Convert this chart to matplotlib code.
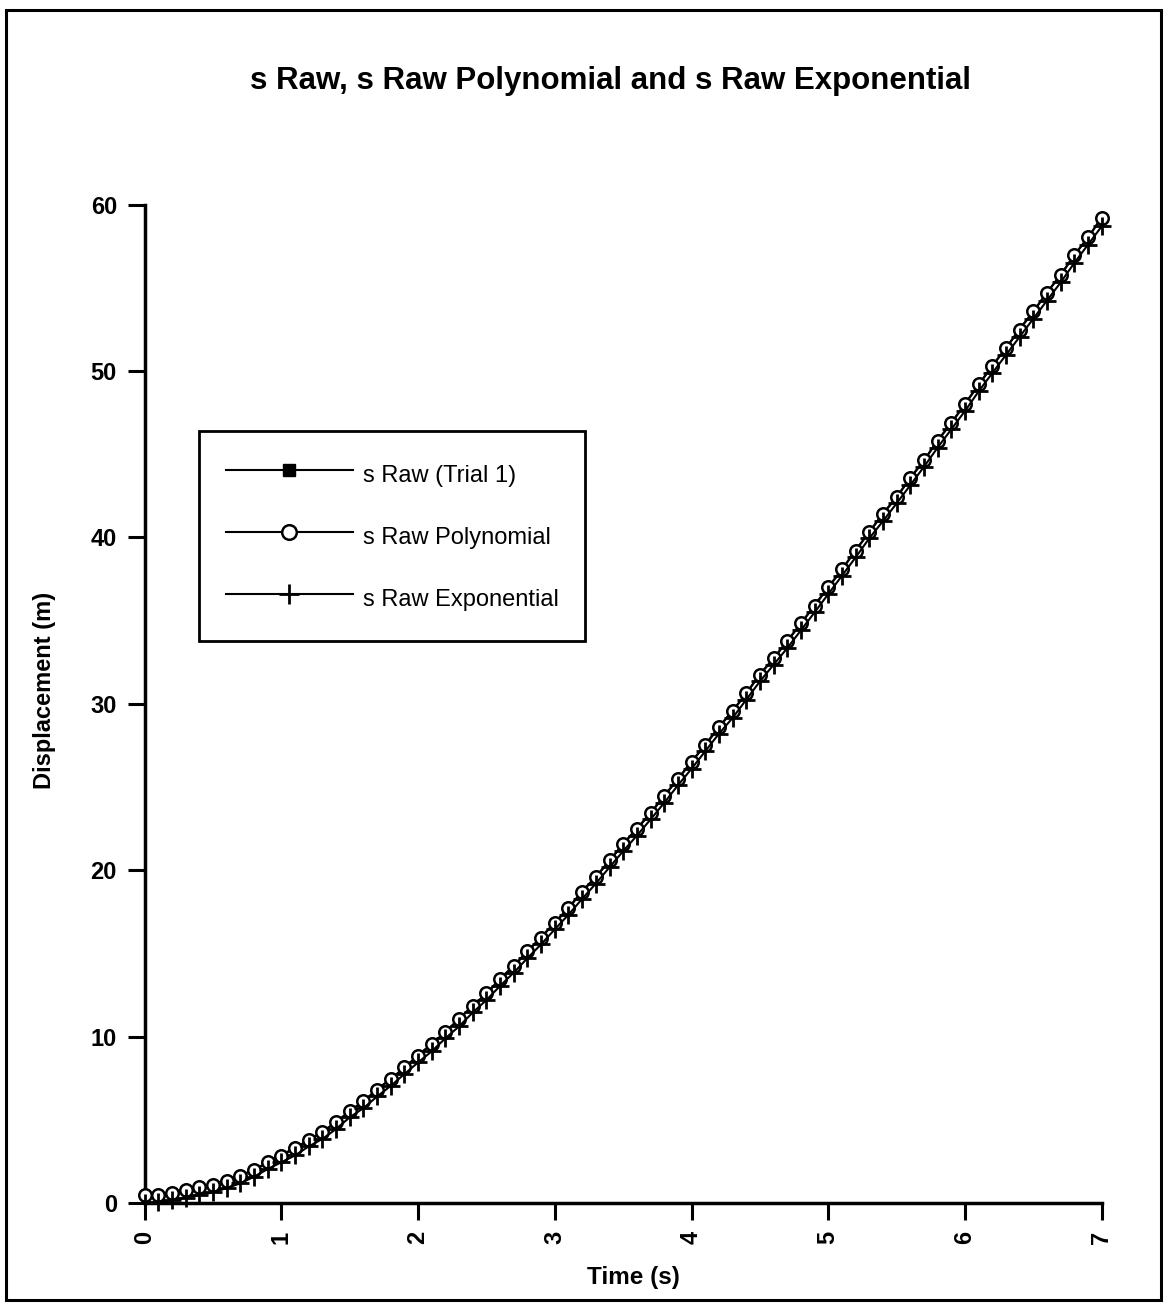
import numpy as np
import matplotlib
matplotlib.use('Agg')
import matplotlib.pyplot as plt
from matplotlib.patches import Rectangle

plt.rcParams['font.family'] = ['Liberation Sans', 'DejaVu Sans']

# time (s), 0.1 s steps
t = [round(0.1 * i, 1) for i in range(71)]

# displacement (m)
s_exp = [0.00, 0.05, 0.15, 0.32, 0.49, 0.63, 0.90, 1.18, 1.58, 2.04,
         2.45, 2.86, 3.40, 3.85, 4.45, 5.15, 5.70, 6.40, 7.04, 7.75,
         8.45, 9.12, 9.90, 10.62, 11.45, 12.20, 13.05, 13.85, 14.72, 15.55,
         16.45, 17.33, 18.28, 19.20, 20.18, 21.15, 22.08, 23.05, 24.05, 25.10,
         26.10, 27.15, 28.20, 29.15, 30.25, 31.35, 32.35, 33.35, 34.42, 35.50,
         36.60, 37.70, 38.80, 39.95, 40.98, 42.05, 43.14, 44.25, 45.40, 46.50,
         47.60, 48.78, 49.88, 50.97, 52.06, 53.15, 54.24, 55.33, 56.50, 57.60, 58.70]

s_poly = [0.45, 0.50, 0.60, 0.75, 0.95, 1.10, 1.35, 1.60, 2.00, 2.45,
          2.85, 3.30, 3.80, 4.25, 4.85, 5.55, 6.10, 6.80, 7.45, 8.15,
          8.85, 9.55, 10.30, 11.05, 11.85, 12.60, 13.45, 14.25, 15.15, 15.95,
          16.85, 17.75, 18.70, 19.60, 20.60, 21.55, 22.50, 23.45, 24.45, 25.50,
          26.50, 27.55, 28.60, 29.55, 30.65, 31.75, 32.75, 33.75, 34.85, 35.90,
          37.00, 38.10, 39.20, 40.35, 41.40, 42.45, 43.55, 44.65, 45.80, 46.90,
          48.00, 49.20, 50.30, 51.40, 52.50, 53.60, 54.70, 55.80, 56.95, 58.05, 59.20]

s_raw = [0.40, 0.50, 0.65, 0.75, 0.90, 1.15, 1.35, 1.65, 2.00, 2.40,
         2.90, 3.30, 3.75, 4.30, 4.85, 5.50, 6.10, 6.85, 7.45, 8.10,
         8.90, 9.55, 10.25, 11.10, 11.85, 12.55, 13.50, 14.25, 15.10, 16.00,
         16.85, 17.70, 18.75, 19.60, 20.55, 21.60, 22.50, 23.40, 24.50, 25.45,
         26.55, 27.50, 28.60, 29.60, 30.60, 31.80, 32.70, 33.80, 34.80, 35.95,
         37.00, 38.05, 39.25, 40.30, 41.45, 42.40, 43.60, 44.60, 45.85, 46.85,
         48.05, 49.15, 50.35, 51.35, 52.55, 53.55, 54.75, 55.75, 57.00, 58.00, 59.25]

fig = plt.figure(figsize=(11.67, 13.10), dpi=100)
ax = fig.add_axes([0.124, 0.0817, 0.82, 0.762])

ax.plot(t, s_raw, color='black', lw=1.5, marker='s', markersize=5,
        markerfacecolor='black', label='s Raw (Trial 1)', zorder=2, clip_on=False)
ax.plot(t, s_poly, color='black', lw=1.5, marker='o', markersize=9,
        markerfacecolor='white', markeredgewidth=1.8, label='s Raw Polynomial',
        zorder=3, clip_on=False)
ax.plot(t, s_exp, color='black', lw=1.5, marker='+', markersize=13,
        markeredgewidth=2, label='s Raw Exponential', zorder=4, clip_on=False)

ax.set_xlim(0, 7)
ax.set_ylim(0, 60)
ax.set_xticks(range(0, 8))
ax.set_yticks(range(0, 70, 10))
for side in ['top', 'right']:
    ax.spines[side].set_visible(False)
for side in ['left', 'bottom']:
    ax.spines[side].set_linewidth(2.5)
ax.tick_params(axis='both', direction='out', length=12, width=2.2,
               labelsize=17, pad=8)
plt.setp(ax.get_xticklabels(), rotation=90, fontweight='bold')
plt.setp(ax.get_yticklabels(), fontweight='bold')

ax.set_xlabel('Time (s)', fontsize=17.5, fontweight='bold')
ax.set_ylabel('Displacement (m)', fontsize=17, fontweight='bold')
ax.xaxis.set_label_coords(0.511, -0.063)
ax.yaxis.set_label_coords(-0.1045, 0.513)
ax.yaxis.label.set_verticalalignment('center')

fig.text(0.523, 0.938, 's Raw, s Raw Polynomial and s Raw Exponential',
         ha='center', va='center', fontsize=22.5, fontweight='bold')

leg = ax.legend(loc='upper left', bbox_to_anchor=(0.057, 0.773),
                handlelength=5.36, handleheight=1.7, labelspacing=1.27,
                fontsize=17, fancybox=False, framealpha=1, edgecolor='black',
                borderpad=1.14, handletextpad=0.42, borderaxespad=0)
leg.get_frame().set_linewidth(2)
for h, ms in zip(leg.legend_handles, [9, 10.5, 14]):
    h.set_markersize(ms)

# scanned page frame
fig.patches.append(Rectangle((0.005, 0.008), 0.99, 0.984, transform=fig.transFigure,
                             fill=False, edgecolor='black', lw=2.2))

fig.savefig('out.png', dpi=100)
